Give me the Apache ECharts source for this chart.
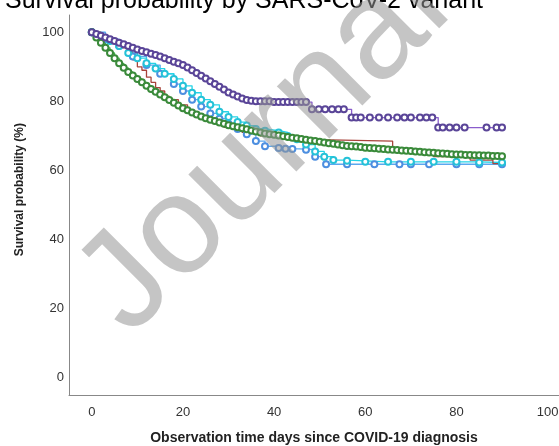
<!DOCTYPE html>
<html>
<head>
<meta charset="utf-8">
<script src="https://cdn.jsdelivr.net/npm/echarts@6/dist/echarts.min.js"></script>
<style>
  html, body { margin: 0; padding: 0; background: #fff; }
  #chart { width: 559px; height: 446px; }
</style>
</head>
<body>
<div id="chart"></div>
<script>
// tick labels
var xTicks = [0, 20, 40, 60, 80, 100];
var yTicks = [0, 20, 40, 60, 80, 100];

// survival curves, [day, survival %]
var purpleData = [
  [0,100],[1,99.5],[2,99],[3,98.5],[4,98],[5,97.5],[6,97],[7,96.5],[8,96],[9,95.5],
  [10,95],[11,94.6],[12,94.2],[13,93.8],[14,93.4],[15,93],[16,92.5],[17,92],[18,91.5],[19,91],
  [20,90.5],[21,89.8],[22,89],[23,88.2],[24,87.4],[25,86.6],[26,85.8],[27,85],[28,84.2],[29,83.4],
  [30,82.6],[31,82],[32,81.4],[33,80.8],[34,80.4],[35,80.2],[36,80],[37,80],[38,80],[39,80],
  [40,79.8],[41,79.8],[42,79.8],[43,79.8],[44,79.8],[45,79.8],[46,79.8],[47,79.8],
  [48.3,77.7],[49.8,77.7],[51.2,77.7],[52.7,77.7],[54.1,77.7],[55.3,77.7],
  [57,75.3],[58,75.3],[59,75.3],[61,75.3],[63,75.3],[65,75.3],[67,75.3],[68.6,75.3],[70,75.3],[72,75.3],[73.4,75.3],[74.7,75.3],
  [76,72.4],[77,72.4],[78.5,72.4],[80,72.4],[81.8,72.4],[86.6,72.4],[88.8,72.4],[90,72.4]
];
var greenData = [
  [0,100],[1,98.5],[2,97],[3,95.5],[4,94],[5,92.5],[6,91],[7,89.7],[8,88.5],[9,87.5],
  [10,86.5],[11,85.5],[12,84.5],[13,83.6],[14,82.8],[15,82],[16,81.2],[17,80.4],[18,79.6],[19,78.8],
  [20,78],[21,77.4],[22,76.8],[23,76.2],[24,75.6],[25,75.1],[26,74.7],[27,74.3],[28,73.9],[29,73.5],
  [30,73.1],[31,72.8],[32,72.5],[33,72.2],[34,71.9],[35,71.6],[36,71.3],[37,71],[38,70.7],[39,70.5],
  [40,70.3],[41,70.1],[42,69.9],[43,69.7],[44,69.5],[45,69.3],[46,69.1],[47,68.9],[48,68.7],[49,68.5],
  [50,68.3],[51,68.1],[52,67.9],[53,67.7],[54,67.5],[55,67.3],[56,67.1],[57,67],[58,66.9],[59,66.8],
  [60,66.6],[61,66.5],[62,66.4],[63,66.3],[64,66.2],[65,66.1],[66,66],[67,65.9],[68,65.8],[69,65.7],
  [70,65.6],[71,65.5],[72,65.4],[73,65.3],[74,65.2],[75,65.1],[76,65],[77,64.9],[78,64.8],[79,64.7],
  [80,64.6],[81,64.6],[82,64.5],[83,64.5],[84,64.4],[85,64.4],[86,64.3],[87,64.3],[88,64.2],[89,64.2],[90,64.1]
];
var brownData = [
  [0,100],[2,98.5],[4,97],[6,95.5],[8,94],[9,92],[10,90],[11,89],[12,87],[13,85.5],
  [14,84],[15,83],[16,81.5],[17,80.5],[19,79],[21,77],[23,75.5],[26,74],[29,72.5],[33,71],
  [37,70],[42,69],[47,68.5],[66,65.8],[75,64],[83,63],[88,62],[90,62]
];
var cyanData = [
  [0,100],[2,98.5],[4,97.5],[6,96],[8,94],[10,92.5],[12,91],[14,89.5],[16,88],[18,86.5],
  [20,84.5],[22,82.5],[24,80.5],[26,79],[28,77],[30,75.5],[32,74],[34,73],[36,72],[38,71.5],
  [41,71],[43,70],[45,69],[47,67.5],[49,65.5],[51,64],[53,63],[56,62.8],[60,62.5],[65,62.5],
  [70,62.5],[75,62.5],[80,62.5],[85,62.3],[90,62.3]
];
var blueData = [
  [0,100],[3,98],[6,96],[9,93],[12,90.5],[15,88],[18,85],[20,83],[22,80.5],[24,78.5],
  [26,76.5],[28,75],[30,73.5],[32,72],[34,70.5],[36,68.5],[38,67],[41,66.5],[42.5,66.3],[44,66.2],
  [47,66],[49,64],[51.4,61.8],[56,61.8],[62,61.8],[67.5,61.8],[70,61.8],[74,61.8],[80,61.8],[85,61.8],[90,61.8]
];

var chart = echarts.init(document.getElementById('chart'));

function kmSeries(data, lineColor, markColor, showMarks, size) {
  return {
    type: 'line',
    step: 'end',
    data: data,
    symbol: 'emptyCircle',
    symbolSize: size,
    showSymbol: showMarks,
    showAllSymbol: true,
    lineStyle: { color: lineColor, width: 1.3 },
    itemStyle: { color: markColor, borderWidth: 1.3 },
    emphasis: { disabled: true }
  };
}

chart.setOption({
  animation: false,
  backgroundColor: '#ffffff',
  title: {
    text: 'Survival probability by SARS-CoV-2 variant',
    left: 5,
    top: -11,
    padding: 0,
    textStyle: { fontFamily: 'Liberation Sans, Arial', fontSize: 25, fontWeight: 'normal', color: '#000' }
  },
  grid: { left: 69, right: 0, top: 15, bottom: 51, outerBoundsMode: 'none' },
  xAxis: {
    type: 'value',
    min: -5,
    max: 102.5,
    name: 'Observation time days since COVID-19 diagnosis',
    nameLocation: 'middle',
    nameGap: 36,
    nameTextStyle: { fontFamily: 'Liberation Sans, Arial', fontSize: 14, fontWeight: 'bold', color: '#222' },
    axisLine: { onZero: false, lineStyle: { color: '#888', width: 1 } },
    axisTick: { show: false },
    splitLine: { show: false },
    axisLabel: {
      customValues: xTicks,
      margin: 11,
      fontFamily: 'Liberation Sans, Arial',
      fontSize: 13,
      color: '#333'
    }
  },
  yAxis: {
    type: 'value',
    min: -5,
    max: 105,
    axisLine: { show: true, onZero: false, lineStyle: { color: '#888', width: 1 } },
    axisTick: { show: false },
    splitLine: { show: false },
    axisLabel: {
      customValues: yTicks,
      margin: 5,
      fontFamily: 'Liberation Sans, Arial',
      fontSize: 13,
      color: '#333'
    }
  },
  graphic: [
    {
      type: 'text',
      left: 14,
      top: 123,
      rotation: Math.PI / 2,
      style: {
        text: 'Survival probability (%)',
        font: 'bold 12px "Liberation Sans", Arial',
        fill: '#222'
      }
    },
    {
      type: 'text',
      x: 152,
      y: 360,
      rotation: Math.PI / 4,
      z: 100,
      silent: true,
      style: {
        text: 'Journal Pre-proof',
        font: '140px "Liberation Sans", Arial',
        fill: 'rgba(150,150,150,0.55)',
        textVerticalAlign: 'bottom'
      }
    }
  ],
  series: [
    kmSeries(blueData, '#5aa8ef', '#4d8fe0', true, 6),
    kmSeries(cyanData, '#24d4e6', '#25c2d8', true, 6),
    kmSeries(brownData, '#a8443c', '#a8443c', false, 5),
    kmSeries(greenData, '#3cb043', '#3a8a3a', true, 6),
    kmSeries(purpleData, '#8a5ccc', '#5a4598', true, 6)
  ]
});
</script>
</body>
</html>
